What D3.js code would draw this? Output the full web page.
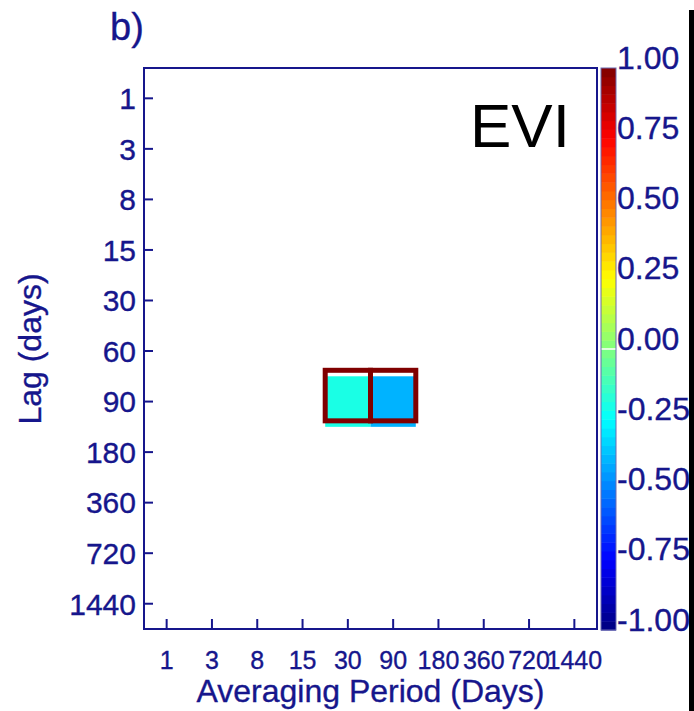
<!DOCTYPE html>
<html>
<head>
<meta charset="utf-8">
<script src="https://cdn.jsdelivr.net/npm/d3@7/dist/d3.min.js"></script>
<style>
  html, body { margin: 0; padding: 0; background: #fff; }
  svg { display: block; font-family: "Liberation Sans", Arial, Helvetica, sans-serif; }
</style>
</head>
<body>
<svg id="chart" width="694" height="711"></svg>
<script>
// Averaging periods (columns) and lags (rows), in days
const periods = ["1", "3", "8", "15", "30", "90", "180", "360", "720", "1440"];
const lags = ["1", "3", "8", "15", "30", "60", "90", "180", "360", "720", "1440"];

// Significant correlation cells: averaging period, lag, correlation
const cellPeriod = ["30", "90"];
const cellLag = ["90", "90"];
const cellValue = [-0.20, -0.40];

// Colour bar ticks
const cbarTicks = [1.00, 0.75, 0.50, 0.25, 0.00, -0.25, -0.50, -0.75, -1.00];

const navy = "#16168c";
const svg = d3.select("#chart");

const plot = { left: 144, right: 597, top: 68, bottom: 629 };

// Jet colormap over [-1, 1]
function jet(v) {
  const t = (v + 1) / 2;
  const c = x => Math.max(0, Math.min(1, x));
  const r = c(1.5 - Math.abs(4 * t - 3));
  const g = c(1.5 - Math.abs(4 * t - 2));
  const b = c(1.5 - Math.abs(4 * t - 1));
  return d3.rgb(r * 255, g * 255, b * 255).formatHex();
}

const x = d3.scaleBand().domain(periods).range([plot.left, plot.right]).padding(0);
const yIdx = d3.scaleLinear().domain([-0.6, lags.length - 0.5]).range([plot.top, plot.bottom]);
const yStep = yIdx(1) - yIdx(0);
const y = lag => yIdx(lags.indexOf(lag));

// Cells
const cells = cellPeriod.map((p, i) => ({ p, lag: cellLag[i], v: cellValue[i] }));
svg.append("g").selectAll("rect").data(cells).join("rect")
  .attr("x", d => x(d.p))
  .attr("y", d => y(d.lag) - yStep / 2)
  .attr("width", x.bandwidth())
  .attr("height", yStep)
  .attr("fill", d => jet(d.v));

// Significance outlines (drawn slightly above the fill)
svg.append("g").selectAll("rect").data(cells).join("rect")
  .attr("x", d => x(d.p))
  .attr("y", d => y(d.lag) - yStep / 2 - 6)
  .attr("width", x.bandwidth())
  .attr("height", yStep)
  .attr("fill", "none")
  .attr("stroke", "#800000")
  .attr("stroke-width", 5);

// Plot frame
svg.append("rect")
  .attr("x", plot.left).attr("y", plot.top)
  .attr("width", plot.right - plot.left).attr("height", plot.bottom - plot.top)
  .attr("fill", "none").attr("stroke", navy).attr("stroke-width", 2);

const txt = sel => sel.attr("fill", navy).attr("stroke", navy).attr("stroke-width", 0.35);

// Y axis (lag)
const yAxis = svg.append("g");
lags.forEach(l => {
  const yy = y(l);
  yAxis.append("line").attr("x1", plot.left).attr("x2", plot.left + 9)
    .attr("y1", yy).attr("y2", yy).attr("stroke", navy).attr("stroke-width", 2);
  yAxis.append("text").attr("x", plot.left - 8).attr("y", yy)
    .attr("dy", "0.36em").attr("text-anchor", "end")
    .attr("font-size", 30).call(txt).text(l);
});

// X axis (averaging period)
const xAxis = svg.append("g");
periods.forEach(p => {
  const xx = x(p) + x.bandwidth() / 2;
  xAxis.append("line").attr("x1", xx).attr("x2", xx)
    .attr("y1", plot.bottom).attr("y2", plot.bottom - 10)
    .attr("stroke", navy).attr("stroke-width", 2);
  xAxis.append("text").attr("x", xx).attr("y", 669)
    .attr("text-anchor", "middle")
    .attr("font-size", 25).call(txt).text(p);
});

// Axis titles
svg.append("text").attr("x", (plot.left + plot.right) / 2).attr("y", 702)
  .attr("text-anchor", "middle").attr("font-size", 32).call(txt)
  .text("Averaging Period (Days)");
svg.append("text")
  .attr("transform", `translate(41, ${349}) rotate(-90)`)
  .attr("text-anchor", "middle").attr("font-size", 32).call(txt)
  .text("Lag (days)");

// Panel letter and variable name
svg.append("text").attr("x", 110).attr("y", 40)
  .attr("font-size", 38).call(txt).text("b)");
svg.append("text").attr("x", 470).attr("y", 147)
  .attr("font-size", 62).attr("fill", "#000").text("EVI");

// Colour bar
const cb = { x: 601, w: 15, top: 68, bottom: 630 };
const cy = d3.scaleLinear().domain([-1, 1]).range([cb.bottom, cb.top]);
const nSteps = 64;
const steps = d3.range(nSteps).map(i => -1 + (i + 0.5) * 2 / nSteps);
svg.append("g").selectAll("rect").data(steps).join("rect")
  .attr("x", cb.x).attr("width", cb.w)
  .attr("y", d => cy(d + 1 / nSteps))
  .attr("height", Math.abs(cy(0) - cy(2 / nSteps)) + 0.5)
  .attr("fill", d => jet(d));
svg.append("line").attr("x1", cb.x).attr("x2", cb.x + cb.w)
  .attr("y1", cy(0)).attr("y2", cy(0)).attr("stroke", "#fff").attr("stroke-width", 1.5);
svg.append("rect").attr("x", cb.x).attr("y", cb.top).attr("width", cb.w)
  .attr("height", cb.bottom - cb.top).attr("fill", "none")
  .attr("stroke", "#6a6ab0").attr("stroke-width", 1);
svg.append("g").selectAll("text").data(cbarTicks).join("text")
  .attr("x", cb.x + cb.w + 1).attr("y", d => cy(d) - 11)
  .attr("dy", "0.36em").attr("font-size", 32).call(txt)
  .text(d => d.toFixed(2));

// Right edge bar
svg.append("rect").attr("x", 689).attr("y", 10).attr("width", 5).attr("height", 701).attr("fill", "#000");
</script>
</body>
</html>
